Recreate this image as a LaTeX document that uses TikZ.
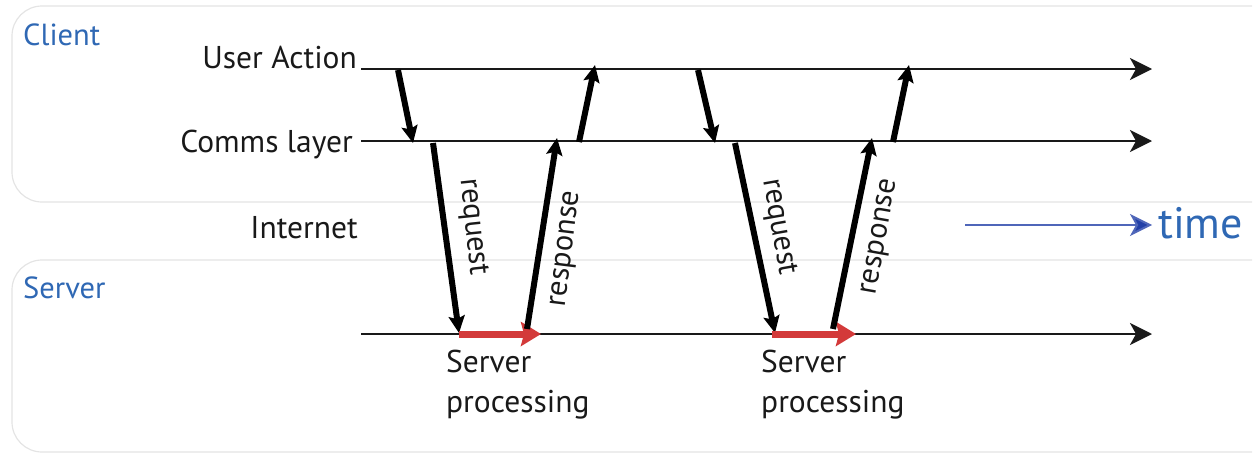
\documentclass[tikz,border=0pt]{standalone}
\usepackage{fontspec}
\setmainfont{PT Sans}
\usetikzlibrary{arrows.meta}
\definecolor{panelgray}{HTML}{E4E4E4}
\definecolor{lblue}{HTML}{2F68B4}
\definecolor{tblue}{HTML}{2340A8}
\definecolor{procred}{HTML}{D33A3A}
\tikzset{
  panel/.style={draw=panelgray, line width=1.2pt, rounded corners=30pt},
  hline/.style={draw=black!90, line width=2.8pt, -{Stealth[length=22pt,width=22pt,inset=6pt]}},
  msg/.style={draw=black, line width=6pt, -{Stealth[length=17pt,width=16pt,inset=3pt]}},
  proc/.style={draw=procred, line width=7pt, -{Stealth[length=20pt,width=24pt,inset=3pt]}},
  timearrow/.style={draw=tblue!80, line width=2pt, -{Stealth[length=22pt,width=22pt,inset=6pt,fill=tblue]}},
  lbl/.style={inner sep=0pt, font=\fontsize{31.5}{40}\selectfont, text=black!90},
  sect/.style={inner sep=0pt, font=\fontsize{30.5}{36}\selectfont, text=lblue},
  rlbl/.style={inner sep=0pt, font=\fontsize{30.5}{36}\selectfont, text=black!90}
}
\begin{document}
\begin{tikzpicture}[x=1pt,y=-1pt]
\useasboundingbox (0,0) rectangle (1260,455);
% panels
\draw[panel] (1252,6) -- (12,6) -- (12,202) -- (1252,202);
\draw[panel] (1252,260) -- (12,260) -- (12,452) -- (1252,452);
% section titles
\node[sect, anchor=base west] (client) at (23,45) {Client};
\node[sect, anchor=base west] (server) at (23,298) {Server};
% line labels
\node[lbl, anchor=base east] (ua) at (357,68) {User Action};
\node[lbl, anchor=base east] (cl) at (353,152) {Comms layer};
\node[lbl, anchor=base east] (inet) at (358,238) {Internet};
% timelines
\coordinate (ua0) at (361,69);  \coordinate (ua1) at (1152,69);
\coordinate (cl0) at (361,141); \coordinate (cl1) at (1152,141);
\coordinate (sv0) at (361,334); \coordinate (sv1) at (1152,334);
\draw[hline] (ua0) -- (ua1);
\draw[hline] (cl0) -- (cl1);
\draw[hline] (sv0) -- (sv1);
% time
\coordinate (t0) at (965,225); \coordinate (t1) at (1152,225);
\draw[timearrow] (t0) -- (t1);
\node[inner sep=0pt, anchor=base west, font=\fontsize{44}{48}\selectfont, text=lblue] (time) at (1158,238) {time};
% group 1
\coordinate (a1s) at (398,70);  \coordinate (a1e) at (413,143);
\coordinate (r1s) at (433,143); \coordinate (r1e) at (459,333);
\coordinate (p1s) at (459,334); \coordinate (p1e) at (541,334);
\coordinate (s1s) at (527,329); \coordinate (s1e) at (557,138);
\coordinate (u1s) at (579,142); \coordinate (u1e) at (595,65);
\draw[msg] (a1s) -- (a1e);
\draw[msg] (r1s) -- (r1e);
\draw[proc] (p1s) -- (p1e);
\draw[msg] (s1s) -- (s1e);
\draw[msg] (u1s) -- (u1e);
\node[rlbl, rotate=-84] (req1) at (472,227) {request};
\node[rlbl, rotate=83] (resp1) at (567,249) {response};
\node[lbl, anchor=north west, align=left] (proc1) at (446,350) {Server\\processing};
% group 2
\coordinate (a2s) at (698,70);  \coordinate (a2e) at (715,143);
\coordinate (r2s) at (735,143); \coordinate (r2e) at (775,333);
\coordinate (p2s) at (772,334); \coordinate (p2e) at (856,334);
\coordinate (s2s) at (833,329); \coordinate (s2e) at (872,138);
\coordinate (u2s) at (893,142); \coordinate (u2e) at (909,65);
\draw[msg] (a2s) -- (a2e);
\draw[msg] (r2s) -- (r2e);
\draw[proc] (p2s) -- (p2e);
\draw[msg] (s2s) -- (s2e);
\draw[msg] (u2s) -- (u2e);
\node[rlbl, rotate=-80] (req2) at (778,227) {request};
\node[rlbl, rotate=80] (resp2) at (881,237) {response};
\node[lbl, anchor=north west, align=left] (proc2) at (761,350) {Server\\processing};
\end{tikzpicture}
\end{document}
